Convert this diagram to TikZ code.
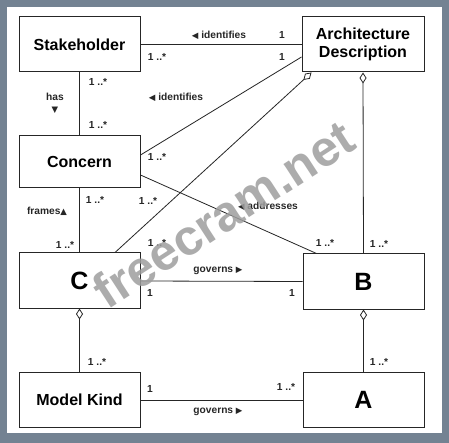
\documentclass[tikz,border=0pt]{standalone}
\usepackage{fontspec}
\setmainfont{Liberation Sans}
\newfontfamily\symfam{DejaVu Sans}
\usetikzlibrary{arrows.meta,calc}
\definecolor{frameblue}{RGB}{115,130,146}
\newcommand\mytriL{{\symfam\fontsize{8.5}{9}\selectfont ◀}}
\newcommand\mytriR{{\symfam\fontsize{8.5}{9}\selectfont ▶}}
\newcommand\mytriD{{\symfam\fontsize{8.5}{9}\selectfont ▼}}
\newcommand\mytriU{{\symfam\fontsize{8.5}{9}\selectfont ▲}}
\begin{document}
\begin{tikzpicture}[x=1pt,y=-1pt,
  box/.style={draw=black!85, line width=1pt, fill=white, minimum width=121pt,
    minimum height=55pt, inner sep=0pt, align=center,
    font=\bfseries\fontsize{16}{18.5}\selectfont},
  big/.style={font=\bfseries\fontsize{25}{28}\selectfont},
  lbl/.style={font=\bfseries\fontsize{10.2}{12}\selectfont, inner sep=0pt, text=black!85},
  conn/.style={draw=black!85, line width=0.8pt},
  agg/.style={conn, {Diamond[open,length=11pt,width=7pt,fill=white]}-}
]
\useasboundingbox (0,0) rectangle (449,443);
\fill[frameblue] (0,0) rectangle (449,443);
\fill[white] (7,7) rectangle (442,433);

% boxes
\node[box] (SH) at (79.5,44.5) {Stakeholder};
\node[box, minimum height=52pt] (CO) at (79.5,162) {Concern};
\node[box, minimum width=122pt] (AD) at (363,44.5) {Architecture\\Description};
\node[box, big] (C) at (79.5,280.5) {C};
\node[box, big] (B) at (363.5,281.5) {B};
\node[box] (MK) at (79.5,400) {Model Kind};
\node[box, big] (A) at (363.5,400) {A};

% connectors
\draw[conn] (SH) -- (AD);
\draw[conn] (SH) -- (CO);
\draw[conn] ($(CO.east)+(0,-7)$) -- ($(AD.west)+(0,12.5)$);
\draw[agg] ($(AD.south west)+(10,0)$) -- ($(C.north)+(35.5,0)$);
\draw[conn] (CO) -- (C);
\draw[conn] ($(CO.east)+(0,13)$) -- ($(B.north west)+(14,0)$);
\draw[agg] (AD.south) -- (B.north);
\draw[conn] ($(C.east)+(0,0.5)$) -- (B.west);
\draw[agg] (C.south) -- (MK.north);
\draw[agg] (B.south) -- (A.north);
\draw[conn] (MK) -- (A);

% labels
\node[lbl] (l1) at (219,35) {\mytriL\ identifies};
\node[lbl] (l2) at (282,35) {1};
\node[lbl] (l3) at (157,57) {1 ..*};
\node[lbl] (l4) at (282,57) {1};
\node[lbl] (l5) at (176,97) {\mytriL\ identifies};
\node[lbl] (l6) at (157,157) {1 ..*};
\node[lbl] (l7) at (98,82) {1 ..*};
\node[lbl] (l8) at (98,125) {1 ..*};
\node[lbl] (l9) at (55,97) {has};
\node[lbl] (l10) at (55,110) {\mytriD};
\node[lbl] (l11) at (95,200) {1 ..*};
\node[lbl] (l12) at (148,201) {1 ..*};
\node[lbl] (l13) at (47,211) {frames\mytriU};
\node[lbl] (l14) at (65,245) {1 ..*};
\node[lbl] (l15) at (157,243) {1 ..*};
\node[lbl] (l16) at (268,206) {\mytriL\ addresses};
\node[lbl] (l17) at (325,243) {1 ..*};
\node[lbl] (l18) at (379,244) {1 ..*};
\node[lbl] (l19) at (218,271) {governs \mytriR};
\node[lbl] (l20) at (150,293) {1};
\node[lbl] (l21) at (292,293) {1};
\node[lbl] (l22) at (97,362) {1 ..*};
\node[lbl] (l23) at (379,362) {1 ..*};
\node[lbl] (l24) at (150,389) {1};
\node[lbl] (l25) at (286,387) {1 ..*};
\node[lbl] (l26) at (218,412) {governs \mytriR};

% watermark
\node[anchor=base, rotate=33, text=black!38, opacity=0.85, inner sep=0pt,
  font=\bfseries\fontsize{50}{50}\selectfont] (wm) at (233,229) {freecram.net};
\end{tikzpicture}
\end{document}
